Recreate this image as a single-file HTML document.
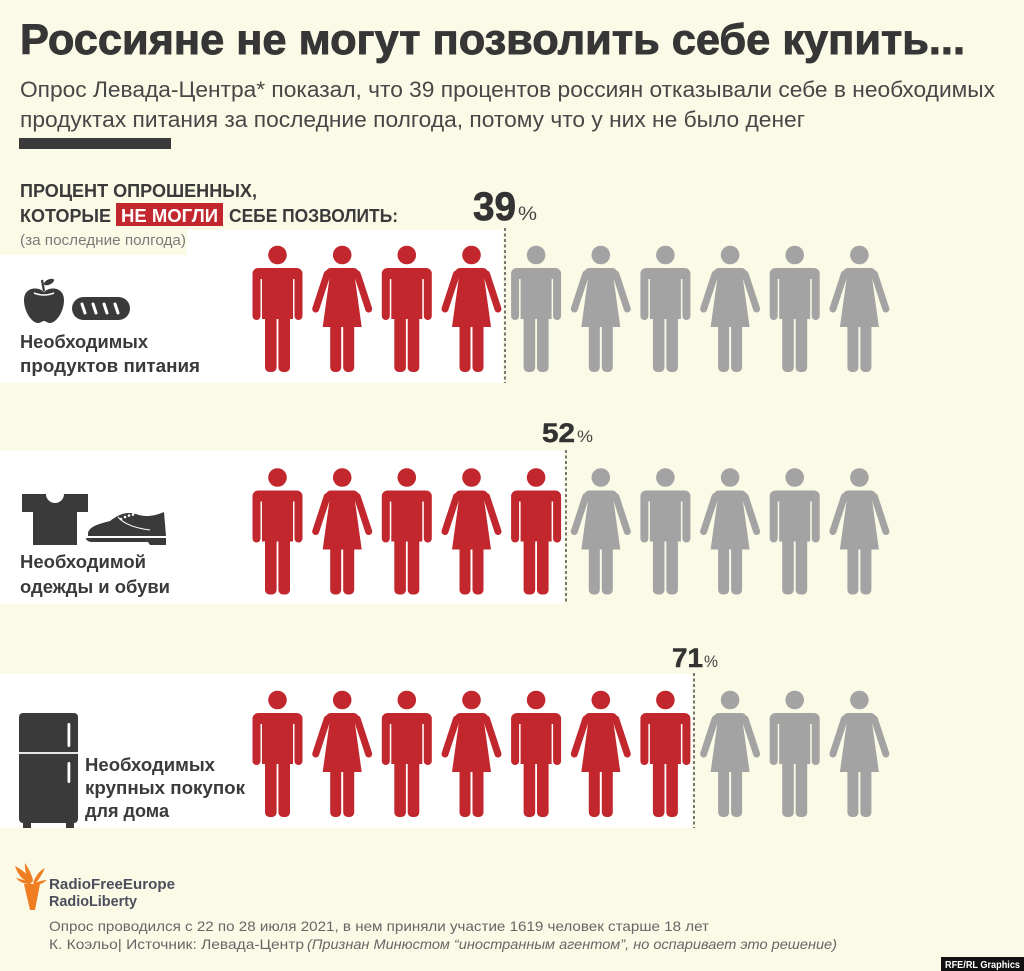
<!DOCTYPE html>
<html><head><meta charset="utf-8"><style>
html,body{margin:0;padding:0;background:#fbfae7;}
svg{display:block;}
text{font-family:"Liberation Sans","DejaVu Sans",sans-serif;}
</style></head><body>
<svg width="1024" height="971" viewBox="0 0 1024 971" xmlns="http://www.w3.org/2000/svg">
<defs>
<g id="man">
<circle cx="0" cy="0" r="9.3"/>
<rect x="-25" y="13" width="50" height="11" rx="6"/>
<rect x="-25" y="16" width="8" height="49" rx="4"/>
<rect x="17" y="16" width="8" height="49" rx="4"/>
<rect x="-15.5" y="16" width="31" height="48"/>
<rect x="-12.5" y="55" width="11.6" height="62" rx="4.5"/>
<rect x="0.9" y="55" width="11.6" height="62" rx="4.5"/>
</g>
<g id="woman">
<circle cx="0" cy="0" r="9.3"/>
<rect x="-16.5" y="13" width="33" height="10" rx="5"/>
<polygon points="-12,18 12,18 19.5,72 -19.5,72"/>
<line x1="-15" y1="19" x2="-26.5" y2="54" stroke="currentColor" stroke-width="7" stroke-linecap="round"/>
<line x1="15" y1="19" x2="26.5" y2="54" stroke="currentColor" stroke-width="7" stroke-linecap="round"/>
<rect x="-12" y="64" width="11" height="53" rx="4.5"/>
<rect x="1" y="64" width="11" height="53" rx="4.5"/>
</g>
</defs>

<rect width="1024" height="971" fill="#fbfae7"/>

<!-- Header -->
<text x="20" y="54" font-size="43" font-weight="bold" fill="#363636" stroke="#363636" stroke-width="0.9" textLength="945" lengthAdjust="spacingAndGlyphs">Россияне не могут позволить себе купить...</text>
<text x="20" y="97" font-size="22" fill="#474747" textLength="975" lengthAdjust="spacingAndGlyphs">Опрос Левада-Центра* показал, что 39 процентов россиян отказывали себе в необходимых</text>
<text x="20" y="127" font-size="22" fill="#474747" textLength="785" lengthAdjust="spacingAndGlyphs">продуктах питания за последние полгода, потому что у них не было денег</text>
<rect x="19" y="138" width="152" height="11" fill="#3a3a3a"/>

<!-- Panels -->
<polygon points="0,255 187,255 187,230 503,230 503,383 0,383" fill="#ffffff"/>
<rect x="0" y="451" width="564" height="153" fill="#ffffff"/>
<rect x="0" y="674" width="692" height="154" fill="#ffffff"/>

<!-- Section header -->
<text x="20" y="197" font-size="18" font-weight="bold" fill="#3a3a3a" textLength="237" lengthAdjust="spacingAndGlyphs">ПРОЦЕНТ ОПРОШЕННЫХ,</text>
<text x="20" y="222" font-size="18" font-weight="bold" fill="#3a3a3a" textLength="91" lengthAdjust="spacingAndGlyphs">КОТОРЫЕ</text>
<rect x="116" y="203" width="107" height="23" fill="#c1272d"/>
<text x="121" y="222" font-size="18" font-weight="bold" fill="#ffffff" textLength="97" lengthAdjust="spacingAndGlyphs">НЕ МОГЛИ</text>
<text x="229" y="222" font-size="18" font-weight="bold" fill="#3a3a3a" textLength="169" lengthAdjust="spacingAndGlyphs">СЕБЕ ПОЗВОЛИТЬ:</text>
<text x="20" y="245" font-size="15" fill="#7a7a7a" textLength="166" lengthAdjust="spacingAndGlyphs">(за последние полгода)</text>

<!-- Percent labels -->
<text x="473" y="220" font-size="40" font-weight="bold" fill="#333" stroke="#333" stroke-width="0.8" textLength="43" lengthAdjust="spacingAndGlyphs">39</text>
<text x="518" y="220" font-size="19" fill="#444" textLength="19" lengthAdjust="spacingAndGlyphs">%</text>
<text x="542" y="442" font-size="27" font-weight="bold" fill="#333" stroke="#333" stroke-width="0.5" textLength="33" lengthAdjust="spacingAndGlyphs">52</text>
<text x="577" y="442" font-size="17" fill="#444" textLength="16" lengthAdjust="spacingAndGlyphs">%</text>
<text x="672" y="667" font-size="27" font-weight="bold" fill="#333" stroke="#333" stroke-width="0.5" textLength="31" lengthAdjust="spacingAndGlyphs">71</text>
<text x="704" y="667" font-size="17" fill="#444" textLength="14" lengthAdjust="spacingAndGlyphs">%</text>

<!-- Dashed lines -->
<line x1="505" y1="228" x2="505" y2="383" stroke="#555" stroke-width="1.6" stroke-dasharray="3,2.5"/>
<line x1="566" y1="450" x2="566" y2="604" stroke="#555" stroke-width="1.6" stroke-dasharray="3,2.5"/>
<line x1="694" y1="673" x2="694" y2="828" stroke="#555" stroke-width="1.6" stroke-dasharray="3,2.5"/>

<!-- Row 1 figures -->
<g style="fill:#c1272d;color:#c1272d">
<use href="#man" x="277.5" y="255"/>
<use href="#woman" x="342.2" y="255"/>
<use href="#man" x="406.8" y="255"/>
<use href="#woman" x="471.5" y="255"/>
</g>
<g style="fill:#a3a3a3;color:#a3a3a3">
<use href="#man" x="536.1" y="255"/>
<use href="#woman" x="600.8" y="255"/>
<use href="#man" x="665.4" y="255"/>
<use href="#woman" x="730.1" y="255"/>
<use href="#man" x="794.7" y="255"/>
<use href="#woman" x="859.4" y="255"/>
</g>

<!-- Row 2 figures -->
<g style="fill:#c1272d;color:#c1272d">
<use href="#man" x="277.5" y="477.5"/>
<use href="#woman" x="342.2" y="477.5"/>
<use href="#man" x="406.8" y="477.5"/>
<use href="#woman" x="471.5" y="477.5"/>
<use href="#man" x="536.1" y="477.5"/>
</g>
<g style="fill:#a3a3a3;color:#a3a3a3">
<use href="#woman" x="600.8" y="477.5"/>
<use href="#man" x="665.4" y="477.5"/>
<use href="#woman" x="730.1" y="477.5"/>
<use href="#man" x="794.7" y="477.5"/>
<use href="#woman" x="859.4" y="477.5"/>
</g>

<!-- Row 3 figures -->
<g style="fill:#c1272d;color:#c1272d">
<use href="#man" x="277.5" y="700"/>
<use href="#woman" x="342.2" y="700"/>
<use href="#man" x="406.8" y="700"/>
<use href="#woman" x="471.5" y="700"/>
<use href="#man" x="536.1" y="700"/>
<use href="#woman" x="600.8" y="700"/>
<use href="#man" x="665.4" y="700"/>
</g>
<g style="fill:#a3a3a3;color:#a3a3a3">
<use href="#woman" x="730.1" y="700"/>
<use href="#man" x="794.7" y="700"/>
<use href="#woman" x="859.4" y="700"/>
</g>

<!-- Row 1 icons: apple + bread -->
<g fill="#3a3a3a">
<path d="M44,292 C38,286 24,287 24,300 C24,312 32,323 38,323 C41,323 42,321 44,321 C46,321 47,323 50,323 C56,323 64,312 64,300 C64,287 50,286 44,292 Z"/>
<line x1="44" y1="291" x2="42" y2="280" stroke="#3a3a3a" stroke-width="2.2"/>
<ellipse cx="49" cy="282" rx="5.5" ry="2.6" transform="rotate(-25 49 282)"/>
<rect x="72" y="297" width="58" height="23" rx="11.5"/>
</g>
<path d="M34,293 Q44,297 54,293" stroke="#ffffff" stroke-width="1.6" fill="none"/>
<g stroke="#ffffff" stroke-width="3" stroke-linecap="round">
<line x1="82" y1="304" x2="85" y2="313"/>
<line x1="93" y1="304" x2="96" y2="313"/>
<line x1="104" y1="304" x2="107" y2="313"/>
<line x1="115" y1="304" x2="118" y2="313"/>
</g>
<text x="20" y="348" font-size="18" font-weight="bold" fill="#3a3a3a" textLength="128" lengthAdjust="spacingAndGlyphs">Необходимых</text>
<text x="20" y="372" font-size="18" font-weight="bold" fill="#3a3a3a" textLength="180" lengthAdjust="spacingAndGlyphs">продуктов питания</text>

<!-- Row 2 icons: t-shirt + shoe -->
<path d="M22,494 H46 A9,9 0 0 0 64,494 H88 V512 H77 V545 H33 V512 H22 Z" fill="#3a3a3a"/>
<path d="M88,534 C88,527 98,524 110,521 C118,515 126,511 136,514 C144,517 152,517 164,512 L166,536 L88,536 Z" fill="#3a3a3a"/>
<path d="M86,538 L166,538 L166,545 L150,545 L148,542 L92,542 C88,542 86,540 86,538 Z" fill="#3a3a3a"/>
<path d="M118,517 C124,524 134,528 150,530" stroke="#ffffff" stroke-width="1" fill="none"/>
<g fill="#ffffff">
<circle cx="121" cy="519" r="1.3"/><circle cx="125" cy="517" r="1.3"/><circle cx="129" cy="515.5" r="1.3"/><circle cx="133" cy="514.5" r="1.3"/>
</g>
<text x="20" y="568" font-size="18" font-weight="bold" fill="#3a3a3a" textLength="126" lengthAdjust="spacingAndGlyphs">Необходимой</text>
<text x="20" y="593" font-size="18" font-weight="bold" fill="#3a3a3a" textLength="150" lengthAdjust="spacingAndGlyphs">одежды и обуви</text>

<!-- Row 3 icon: fridge -->
<rect x="19" y="713" width="59" height="110" rx="4" fill="#3a3a3a"/>
<rect x="23" y="820" width="8" height="8" fill="#3a3a3a"/>
<rect x="66" y="820" width="8" height="8" fill="#3a3a3a"/>
<line x1="19" y1="753" x2="78" y2="753" stroke="#ffffff" stroke-width="1.8"/>
<rect x="67.5" y="723" width="2.8" height="24" rx="1.2" fill="#ffffff"/>
<rect x="67.5" y="762" width="2.8" height="21" rx="1.2" fill="#ffffff"/>
<text x="85" y="771" font-size="18" font-weight="bold" fill="#3a3a3a" textLength="130" lengthAdjust="spacingAndGlyphs">Необходимых</text>
<text x="85" y="794" font-size="18" font-weight="bold" fill="#3a3a3a" textLength="160" lengthAdjust="spacingAndGlyphs">крупных покупок</text>
<text x="85" y="817" font-size="18" font-weight="bold" fill="#3a3a3a" textLength="84" lengthAdjust="spacingAndGlyphs">для дома</text>

<!-- Footer logo -->
<g fill="#ef7d22">
<polygon points="24,884 40,884 35,910 30,910"/>
<path d="M31,884 Q19,879 15,866 Q26,872 31,879 Z"/>
<path d="M32,883 Q24,874 25,863 Q31,872 33,880 Z"/>
<path d="M33,883 Q37,872 45,868 Q41,877 35,884 Z"/>
<path d="M33,884 Q41,880 47,880 Q41,885 34,886 Z"/>
<path d="M30,884 Q21,884 16,878 Q24,880 30,882 Z"/>
</g>
<text x="49" y="889" font-size="15" font-weight="bold" fill="#4b4f5c" textLength="126" lengthAdjust="spacingAndGlyphs">RadioFreeEurope</text>
<text x="49" y="906" font-size="15" font-weight="bold" fill="#4b4f5c" textLength="88" lengthAdjust="spacingAndGlyphs">RadioLiberty</text>

<text x="49" y="931" font-size="14" fill="#666" textLength="660" lengthAdjust="spacingAndGlyphs">Опрос проводился с 22 по 28 июля 2021, в нем приняли участие 1619 человек старше 18 лет</text>
<text x="49" y="949" font-size="14" fill="#666" textLength="255" lengthAdjust="spacingAndGlyphs">К. Коэльо| Источник: Левада-Центр</text>
<text x="307" y="949" font-size="14" font-style="italic" fill="#666" textLength="530" lengthAdjust="spacingAndGlyphs">(Признан Минюстом “иностранным агентом”, но оспаривает это решение)</text>

<rect x="941" y="957" width="83" height="14" fill="#111"/>
<text x="945" y="968" font-size="10" font-weight="bold" fill="#ffffff" textLength="75" lengthAdjust="spacingAndGlyphs">RFE/RL Graphics</text>
</svg>
</body></html>
